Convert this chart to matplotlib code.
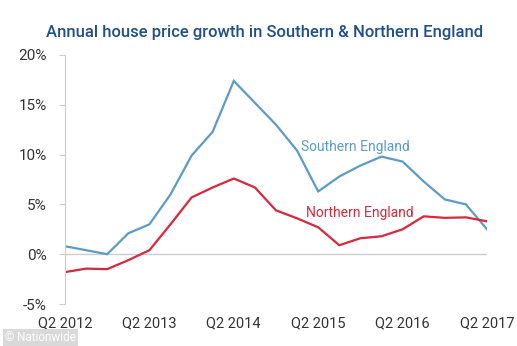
import matplotlib.pyplot as plt
import numpy as np

quarters = [
    "Q2 2012", "Q3 2012", "Q4 2012", "Q1 2013",
    "Q2 2013", "Q3 2013", "Q4 2013", "Q1 2014",
    "Q2 2014", "Q3 2014", "Q4 2014", "Q1 2015",
    "Q2 2015", "Q3 2015", "Q4 2015", "Q1 2016",
    "Q2 2016", "Q3 2016", "Q4 2016", "Q1 2017",
    "Q2 2017",
]
southern = [0.8, 0.4, 0.0, 2.1, 3.0, 6.0, 9.9, 12.3, 17.4, 15.2, 13.0,
            10.4, 6.3, 7.8, 8.9, 9.8, 9.3, 7.3, 5.5, 5.0, 2.5]
northern = [-1.8, -1.45, -1.5, -0.6, 0.4, 3.0, 5.7, 6.7, 7.6, 6.7, 4.4,
            3.6, 2.7, 0.9, 1.6, 1.8, 2.5, 3.8, 3.65, 3.7, 3.3]
y_ticks = [-5, 0, 5, 10, 15, 20]
x_tick_labels = ["Q2 2012", "Q2 2013", "Q2 2014", "Q2 2015", "Q2 2016", "Q2 2017"]

BLUE = "#5b9bc8"
RED = "#d8283a"
TITLE = "#1f4f8c"
TEXT = "#333333"
AXIS = "#cccccc"

plt.rcParams["font.family"] = ["Roboto", "DejaVu Sans"]

fig = plt.figure(figsize=(5.17, 3.46), dpi=100)
ax = fig.add_axes([65 / 517, 42 / 346, (487 - 65) / 517, (304 - 55) / 346])

x = np.arange(len(quarters))
ax.plot(x, southern, color=BLUE, lw=1.6, solid_joinstyle="miter")
ax.plot(x, northern, color=RED, lw=1.6, solid_joinstyle="miter")
ax.axhline(0, color=AXIS, lw=1.0, zorder=0)

ax.set_xlim(0, len(quarters) - 1)
ax.set_ylim(-5, 20)

ax.set_yticks(y_ticks, labels=[f"{v}%" for v in y_ticks])
ax.set_xticks([quarters.index(q) for q in x_tick_labels], labels=x_tick_labels)
ax.tick_params(axis="y", length=4, width=0.8, color=AXIS, pad=9,
               labelsize=11, labelcolor=TEXT)
ax.tick_params(axis="x", length=0, pad=9, labelsize=10.5, labelcolor=TEXT)

for side in ["top", "right", "bottom"]:
    ax.spines[side].set_visible(False)
ax.spines["left"].set_color(AXIS)
ax.spines["left"].set_linewidth(0.8)

ax.text(11.2, 10.8, "Southern England", color=BLUE, fontsize=10, va="center")
ax.text(11.4, 4.1, "Northern England", color=RED, fontsize=10, va="center")

fig.text(265 / 517, 1 - 32 / 346,
         "Annual house price growth in Southern & Northern England",
         color=TITLE, fontsize=12, fontweight="medium", ha="center", va="center")

# source credit in the bottom-left corner
fig.text(5 / 517, 2 / 346, "\u00a9 Nationwide", color="white", fontsize=8.5,
         ha="left", va="bottom",
         bbox=dict(boxstyle="square,pad=0.2", fc="#d9d9d9", ec="none"))

fig.savefig("out.png", dpi=100)
